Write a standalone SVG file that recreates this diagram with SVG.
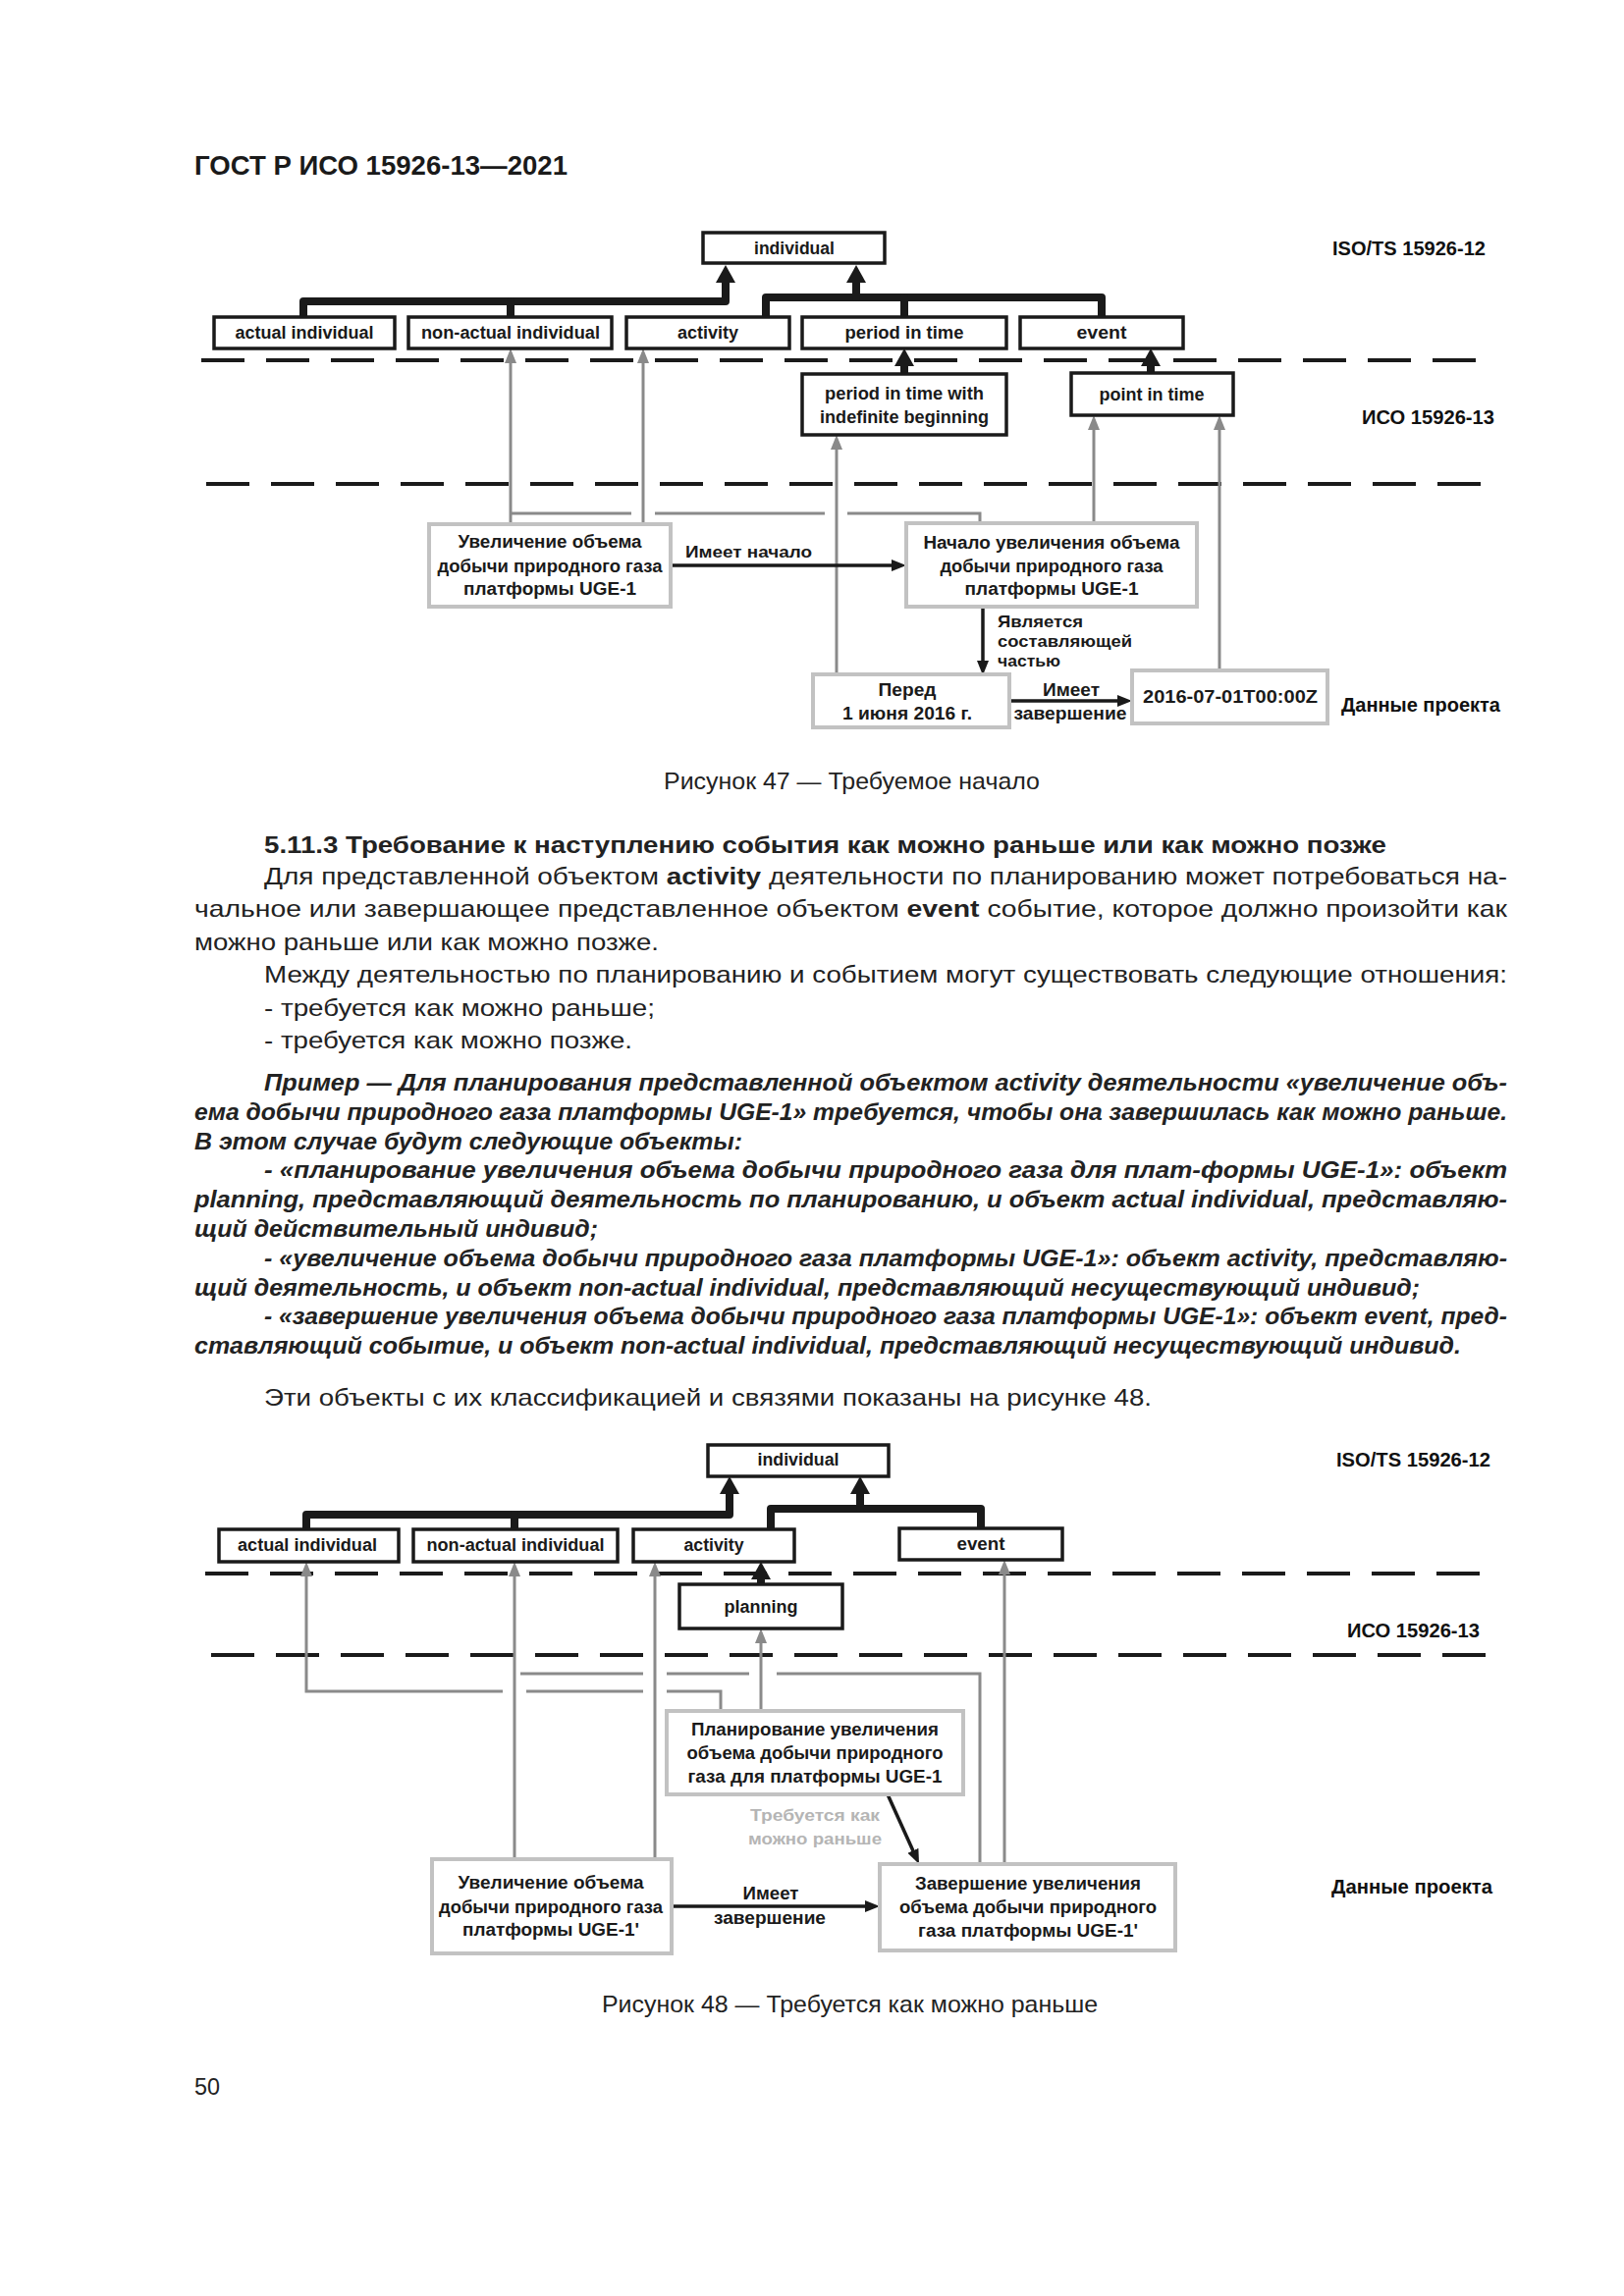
<svg xmlns="http://www.w3.org/2000/svg" xmlns:xlink="http://www.w3.org/1999/xlink" width="1654" height="2339" viewBox="0 0 1654 2339">
<style>
.bg{fill:#fff}
.box{fill:#fff;stroke:#1a1a1a;stroke-width:3.5}
.dbox{fill:#fff;stroke:#c2c2c2;stroke-width:4}
.t{font-family:'Liberation Sans',Arial,sans-serif;font-weight:bold;font-size:18px;fill:#1a1a1a;text-anchor:middle}
.ts{font-family:'Liberation Sans',Arial,sans-serif;font-weight:bold;font-size:17px;fill:#1a1a1a}
.tl{font-family:'Liberation Sans',Arial,sans-serif;font-weight:bold;font-size:20px;fill:#111}
.lt{fill:#b5b5b5}
.gl{stroke:#8a8a8a;stroke-width:3;fill:none}
.bus{stroke:#1a1a1a;stroke-width:8;fill:none;stroke-linejoin:round;stroke-linecap:round}
.dash{stroke:#1a1a1a;stroke-width:4;stroke-dasharray:44 22;fill:none}
.as{stroke:#1a1a1a;stroke-width:3.5;fill:none}
.body{font-family:'Liberation Sans Narrow','Liberation Sans',Arial,sans-serif;font-size:24px;fill:#222}
.ex{font-family:'Liberation Sans Narrow','Liberation Sans',Arial,sans-serif;font-size:23px;fill:#222;font-weight:bold;font-style:italic}
.b{font-weight:bold}
</style>
<defs>
<marker id="mt" markerUnits="userSpaceOnUse" viewBox="0 0 19 20" markerWidth="19" markerHeight="20" refX="1" refY="10" orient="auto"><path d="M0,0 L18,10 L0,20 Z" fill="#1a1a1a"/></marker>
<marker id="mg" markerUnits="userSpaceOnUse" viewBox="0 0 16 14" markerWidth="16" markerHeight="14" refX="1" refY="7" orient="auto"><path d="M0,1 L15,7 L0,13 Z" fill="#8a8a8a"/></marker>
<marker id="mb" markerUnits="userSpaceOnUse" viewBox="0 0 16 14" markerWidth="16" markerHeight="14" refX="1" refY="7" orient="auto"><path d="M0,1 L15,7 L0,13 Z" fill="#1a1a1a"/></marker>
</defs>
<rect class="bg" x="0" y="0" width="1654" height="2339"/>

<text x="198" y="178" font-family="'Liberation Sans',Arial,sans-serif" font-weight="bold" font-size="27" fill="#1a1a1a" textLength="380" lengthAdjust="spacingAndGlyphs">ГОСТ Р ИСО 15926-13—2021</text>

<!-- ============ FIGURE 47 ============ -->
<g id="fig47-layers">
<line class="dash" x1="205" y1="367" x2="1514" y2="367"/>
<line class="dash" x1="210" y1="493" x2="1521" y2="493"/>
<text class="tl" x="1357" y="260" textLength="156" lengthAdjust="spacingAndGlyphs">ISO/TS 15926-12</text>
<text class="tl" x="1387" y="432" textLength="135" lengthAdjust="spacingAndGlyphs">ИСО 15926-13</text>
<text class="tl" x="1366" y="725" textLength="162" lengthAdjust="spacingAndGlyphs">Данные проекта</text>
</g>

<g id="fig47-connectors">
<path class="bus" d="M309,323 L309,307 L739,307 L739,287" marker-end="url(#mt)"/>
<path class="bus" d="M520,323 L520,307"/>
<path class="bus" d="M780,323 L780,303 L1122,303 L1122,323"/>
<path class="bus" d="M921,323 L921,303"/>
<path class="bus" d="M872,303 L872,287" marker-end="url(#mt)"/>
<path class="bus" d="M921,381 L921,372" marker-end="url(#mt)"/>
<path class="bus" d="M1172,380 L1172,372" marker-end="url(#mt)"/>
<path class="gl" d="M520,534 L520,369" marker-end="url(#mg)"/>
<path class="gl" d="M655,534 L655,369" marker-end="url(#mg)"/>
<path class="gl" d="M852,687 L852,457" marker-end="url(#mg)"/>
<path class="gl" d="M1114,533 L1114,437" marker-end="url(#mg)"/>
<path class="gl" d="M1242,683 L1242,437" marker-end="url(#mg)"/>
<path class="gl" d="M998,533 L998,523 L863,523 M840,523 L667,523 M643,523 L520,523"/>
<path class="as" d="M683,576 L909,576" marker-end="url(#mb)"/>
<path class="as" d="M1001,618 L1001,674" marker-end="url(#mb)"/>
<path class="as" d="M1028,714 L1139,714" marker-end="url(#mb)"/>
<text class="ts" x="698" y="568" textLength="129" lengthAdjust="spacingAndGlyphs">Имеет начало</text>
<text class="ts" x="1016" y="639" textLength="87" lengthAdjust="spacingAndGlyphs">Является</text>
<text class="ts" x="1016" y="659" textLength="137" lengthAdjust="spacingAndGlyphs">составляющей</text>
<text class="ts" x="1016" y="679" textLength="64" lengthAdjust="spacingAndGlyphs">частью</text>
<text class="t" x="1091" y="709" textLength="58" lengthAdjust="spacingAndGlyphs">Имеет</text>
<text class="t" x="1090" y="733" textLength="115" lengthAdjust="spacingAndGlyphs">завершение</text>
</g>

<g id="n47-individual"><rect class="box" x="716" y="237" width="185" height="31"/><text class="t" x="809" y="259" textLength="82" lengthAdjust="spacingAndGlyphs">individual</text></g>
<g id="n47-actual"><rect class="box" x="218" y="323" width="184" height="32"/><text class="t" x="310" y="345" textLength="141" lengthAdjust="spacingAndGlyphs">actual individual</text></g>
<g id="n47-nonactual"><rect class="box" x="416" y="323" width="207" height="32"/><text class="t" x="520" y="345" textLength="182" lengthAdjust="spacingAndGlyphs">non-actual individual</text></g>
<g id="n47-activity"><rect class="box" x="638" y="323" width="166" height="32"/><text class="t" x="721" y="345" textLength="62" lengthAdjust="spacingAndGlyphs">activity</text></g>
<g id="n47-period"><rect class="box" x="817" y="323" width="208" height="32"/><text class="t" x="921" y="345" textLength="121" lengthAdjust="spacingAndGlyphs">period in time</text></g>
<g id="n47-event"><rect class="box" x="1039" y="323" width="166" height="32"/><text class="t" x="1122" y="345" textLength="51" lengthAdjust="spacingAndGlyphs">event</text></g>
<g id="n47-periodind"><rect class="box" x="817" y="381" width="208" height="62"/><text class="t" x="921" y="407" textLength="162" lengthAdjust="spacingAndGlyphs">period in time with</text><text class="t" x="921" y="431" textLength="172" lengthAdjust="spacingAndGlyphs">indefinite beginning</text></g>
<g id="n47-point"><rect class="box" x="1091" y="380" width="165" height="43"/><text class="t" x="1173" y="408" textLength="107" lengthAdjust="spacingAndGlyphs">point in time</text></g>
<g id="n47-uvel"><rect class="dbox" x="437" y="534" width="246" height="84"/><text class="t" x="560" y="558" textLength="187" lengthAdjust="spacingAndGlyphs">Увеличение объема</text><text class="t" x="560" y="583" textLength="229" lengthAdjust="spacingAndGlyphs">добычи природного газа</text><text class="t" x="560" y="606" textLength="176" lengthAdjust="spacingAndGlyphs">платформы UGE-1</text></g>
<g id="n47-nachalo"><rect class="dbox" x="923" y="533" width="296" height="85"/><text class="t" x="1071" y="559" textLength="261" lengthAdjust="spacingAndGlyphs">Начало увеличения объема</text><text class="t" x="1071" y="583" textLength="227" lengthAdjust="spacingAndGlyphs">добычи природного газа</text><text class="t" x="1071" y="606" textLength="177" lengthAdjust="spacingAndGlyphs">платформы UGE-1</text></g>
<g id="n47-pered"><rect class="dbox" x="828" y="687" width="200" height="54"/><text class="t" x="924" y="709" textLength="59" lengthAdjust="spacingAndGlyphs">Перед</text><text class="t" x="924" y="733" textLength="132" lengthAdjust="spacingAndGlyphs">1 июня 2016 г.</text></g>
<g id="n47-date"><rect class="dbox" x="1153" y="683" width="199" height="54"/><text class="t" x="1253" y="716" textLength="178" lengthAdjust="spacingAndGlyphs">2016-07-01T00:00Z</text></g>

<text class="body" x="676" y="804" font-size="22" textLength="383" lengthAdjust="spacingAndGlyphs">Рисунок 47 — Требуемое начало</text>

<!-- ============ BODY TEXT ============ -->
<g id="body-text">
<text class="body b" x="269" y="869" textLength="1143" lengthAdjust="spacingAndGlyphs">5.11.3 Требование к наступлению события как можно раньше или как можно позже</text>
<text class="body" x="269" y="901" textLength="1266" lengthAdjust="spacingAndGlyphs">Для представленной объектом <tspan class="b">activity</tspan> деятельности по планированию может потребоваться на-</text>
<text class="body" x="198" y="934" textLength="1337" lengthAdjust="spacingAndGlyphs">чальное или завершающее представленное объектом <tspan class="b">event</tspan> событие, которое должно произойти как</text>
<text class="body" x="198" y="968" textLength="473" lengthAdjust="spacingAndGlyphs">можно раньше или как можно позже.</text>
<text class="body" x="269" y="1001" textLength="1266" lengthAdjust="spacingAndGlyphs">Между деятельностью по планированию и событием могут существовать следующие отношения:</text>
<text class="body" x="269" y="1035" textLength="398" lengthAdjust="spacingAndGlyphs">- требуется как можно раньше;</text>
<text class="body" x="269" y="1068" textLength="375" lengthAdjust="spacingAndGlyphs">- требуется как можно позже.</text>
<text class="ex" x="269" y="1111" textLength="1266" lengthAdjust="spacingAndGlyphs">Пример — Для планирования представленной объектом activity деятельности «увеличение объ-</text>
<text class="ex" x="198" y="1141" textLength="1337" lengthAdjust="spacingAndGlyphs">ема добычи природного газа платформы UGE-1» требуется, чтобы она завершилась как можно раньше.</text>
<text class="ex" x="198" y="1171" textLength="558" lengthAdjust="spacingAndGlyphs">В этом случае будут следующие объекты:</text>
<text class="ex" x="269" y="1200" textLength="1266" lengthAdjust="spacingAndGlyphs">- «планирование увеличения объема добычи природного газа для плат-формы UGE-1»: объект</text>
<text class="ex" x="198" y="1230" textLength="1337" lengthAdjust="spacingAndGlyphs">planning, представляющий деятельность по планированию, и объект actual individual, представляю-</text>
<text class="ex" x="198" y="1260" textLength="411" lengthAdjust="spacingAndGlyphs">щий действительный индивид;</text>
<text class="ex" x="269" y="1290" textLength="1266" lengthAdjust="spacingAndGlyphs">- «увеличение объема добычи природного газа платформы UGE-1»: объект activity, представляю-</text>
<text class="ex" x="198" y="1320" textLength="1248" lengthAdjust="spacingAndGlyphs">щий деятельность, и объект non-actual individual, представляющий несуществующий индивид;</text>
<text class="ex" x="269" y="1349" textLength="1266" lengthAdjust="spacingAndGlyphs">- «завершение увеличения объема добычи природного газа платформы UGE-1»: объект event, пред-</text>
<text class="ex" x="198" y="1379" textLength="1290" lengthAdjust="spacingAndGlyphs">ставляющий событие, и объект non-actual individual, представляющий несуществующий индивид.</text>
<text class="body" x="269" y="1432" textLength="904" lengthAdjust="spacingAndGlyphs">Эти объекты с их классификацией и связями показаны на рисунке 48.</text>
</g>

<!-- ============ FIGURE 48 ============ -->
<g id="fig48-layers">
<line class="dash" x1="209" y1="1603" x2="1520" y2="1603"/>
<line class="dash" x1="215" y1="1686" x2="1523" y2="1686"/>
<text class="tl" x="1361" y="1494" textLength="157" lengthAdjust="spacingAndGlyphs">ISO/TS 15926-12</text>
<text class="tl" x="1372" y="1668" textLength="135" lengthAdjust="spacingAndGlyphs">ИСО 15926-13</text>
<text class="tl" x="1356" y="1929" textLength="164" lengthAdjust="spacingAndGlyphs">Данные проекта</text>
</g>

<g id="fig48-connectors">
<path class="bus" d="M312,1558 L312,1543 L743,1543 L743,1521" marker-end="url(#mt)"/>
<path class="bus" d="M524,1558 L524,1543"/>
<path class="bus" d="M785,1558 L785,1537 L999,1537 L999,1557"/>
<path class="bus" d="M876,1537 L876,1521" marker-end="url(#mt)"/>
<path class="bus" d="M775,1614 L775,1608" marker-end="url(#mt)"/>
<path class="gl" d="M734,1743 L734,1723 L679,1723 M655,1723 L536,1723 M512,1723 L312,1723 L312,1605" marker-end="url(#mg)"/>
<path class="gl" d="M524,1894 L524,1605" marker-end="url(#mg)"/>
<path class="gl" d="M667,1894 L667,1605" marker-end="url(#mg)"/>
<path class="gl" d="M775,1743 L775,1673" marker-end="url(#mg)"/>
<path class="gl" d="M1023,1899 L1023,1603" marker-end="url(#mg)"/>
<path class="gl" d="M998,1899 L998,1705 L791,1705 M763,1705 L679,1705 M655,1705 L530,1705"/>
<path class="as" d="M904,1828 L930.3,1886.2" marker-end="url(#mb)"/>
<path class="as" d="M684,1942 L882,1942" marker-end="url(#mb)"/>
<text class="ts lt" x="830" y="1855" text-anchor="middle" textLength="132" lengthAdjust="spacingAndGlyphs">Требуется как</text>
<text class="ts lt" x="830" y="1879" text-anchor="middle" textLength="136" lengthAdjust="spacingAndGlyphs">можно раньше</text>
<text class="t" x="785" y="1935" textLength="57" lengthAdjust="spacingAndGlyphs">Имеет</text>
<text class="t" x="784" y="1960" textLength="114" lengthAdjust="spacingAndGlyphs">завершение</text>
</g>

<g id="n48-individual"><rect class="box" x="721" y="1472" width="184" height="32"/><text class="t" x="813" y="1493" textLength="83" lengthAdjust="spacingAndGlyphs">individual</text></g>
<g id="n48-actual"><rect class="box" x="223" y="1558" width="183" height="33"/><text class="t" x="313" y="1580" textLength="142" lengthAdjust="spacingAndGlyphs">actual individual</text></g>
<g id="n48-nonactual"><rect class="box" x="421" y="1558" width="208" height="33"/><text class="t" x="525" y="1580" textLength="181" lengthAdjust="spacingAndGlyphs">non-actual individual</text></g>
<g id="n48-activity"><rect class="box" x="645" y="1558" width="164" height="33"/><text class="t" x="727" y="1580" textLength="61" lengthAdjust="spacingAndGlyphs">activity</text></g>
<g id="n48-event"><rect class="box" x="916" y="1557" width="166" height="32"/><text class="t" x="999" y="1579" textLength="49" lengthAdjust="spacingAndGlyphs">event</text></g>
<g id="n48-planning"><rect class="box" x="692" y="1614" width="166" height="45"/><text class="t" x="775" y="1643" textLength="75" lengthAdjust="spacingAndGlyphs">planning</text></g>
<g id="n48-plan"><rect class="dbox" x="679" y="1743" width="302" height="85"/><text class="t" x="830" y="1768" textLength="252" lengthAdjust="spacingAndGlyphs">Планирование увеличения</text><text class="t" x="830" y="1792" textLength="261" lengthAdjust="spacingAndGlyphs">объема добычи природного</text><text class="t" x="830" y="1816" textLength="259" lengthAdjust="spacingAndGlyphs">газа для платформы UGE-1</text></g>
<g id="n48-uvel"><rect class="dbox" x="440" y="1894" width="244" height="96"/><text class="t" x="561" y="1924" textLength="189" lengthAdjust="spacingAndGlyphs">Увеличение объема</text><text class="t" x="561" y="1949" textLength="228" lengthAdjust="spacingAndGlyphs">добычи природного газа</text><text class="t" x="561" y="1972" textLength="180" lengthAdjust="spacingAndGlyphs">платформы UGE-1'</text></g>
<g id="n48-zaversh"><rect class="dbox" x="896" y="1899" width="301" height="88"/><text class="t" x="1047" y="1925" textLength="230" lengthAdjust="spacingAndGlyphs">Завершение увеличения</text><text class="t" x="1047" y="1949" textLength="262" lengthAdjust="spacingAndGlyphs">объема добычи природного</text><text class="t" x="1047" y="1973" textLength="224" lengthAdjust="spacingAndGlyphs">газа платформы UGE-1'</text></g>

<text class="body" x="613" y="2050" font-size="22" textLength="505" lengthAdjust="spacingAndGlyphs">Рисунок 48 — Требуется как можно раньше</text>
<text class="body" x="198" y="2134" font-size="22" textLength="26" lengthAdjust="spacingAndGlyphs">50</text>
</svg>
